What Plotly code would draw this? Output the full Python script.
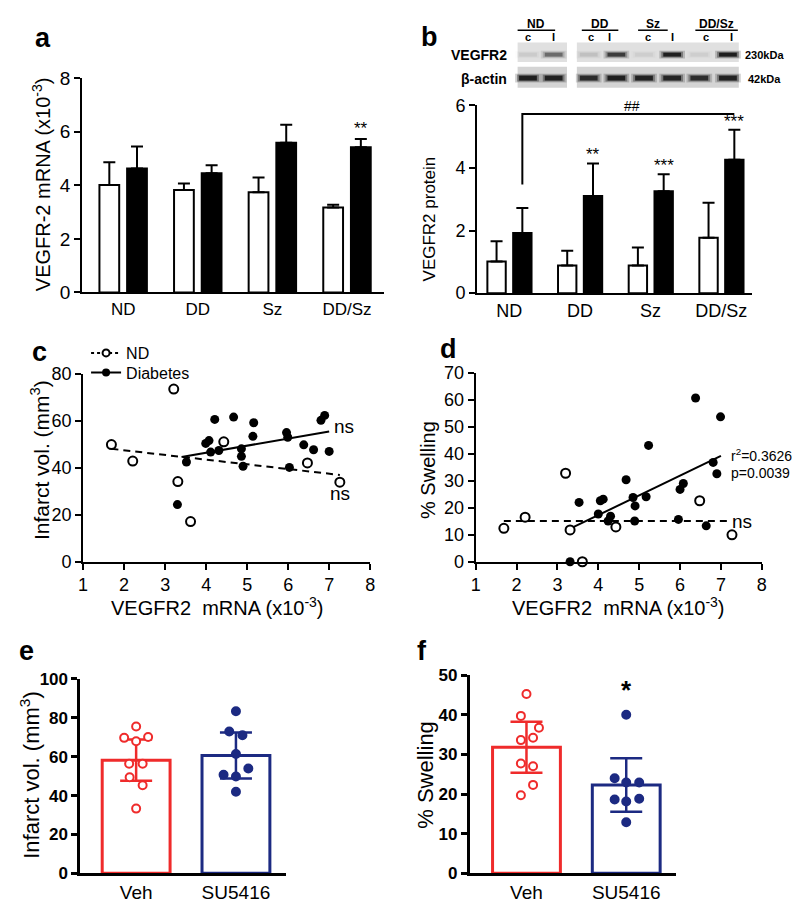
import plotly.graph_objects as go

W, H = 800, 903
def PX(x): return x / W
def PY(y): return 1 - y / H

FONT = "Arial, Liberation Sans, Helvetica, sans-serif"

# ---------------- data ----------------
groups = ["ND", "DD", "Sz", "DD/Sz"]
mrna_contra = [4.01, 3.83, 3.74, 3.17]
mrna_contra_err = [0.85, 0.24, 0.55, 0.11]
mrna_ipsi = [4.63, 4.45, 5.59, 5.42]
mrna_ipsi_err = [0.82, 0.30, 0.67, 0.31]
mrna_stars = ["", "", "", "**"]

prot_contra = [1.01, 0.88, 0.88, 1.77]
prot_contra_err = [0.65, 0.47, 0.58, 1.12]
prot_ipsi = [1.92, 3.10, 3.25, 4.26]
prot_ipsi_err = [0.80, 1.04, 0.55, 0.96]
prot_stars = ["", "**", "***", "***"]

blot_lanes = ["c", "I", "c", "I", "c", "I", "c", "I"]
vegfr2_band = [0.06, 0.45, 0.10, 0.72, 0.05, 0.92, 0.05, 0.95]
actin_band = [0.92, 0.90, 0.82, 0.92, 0.90, 0.88, 0.80, 0.90]

nd_mrna_c = [1.69, 2.21, 3.21, 3.31, 3.62, 4.43, 6.47, 7.26]
nd_infarct = [49.8, 42.8, 73.4, 34.1, 17.1, 51.0, 42.0, 33.8]
db_mrna_c = [3.30, 3.52, 3.99, 4.07, 4.11, 4.21, 4.31, 4.67, 4.86, 4.86, 4.90,
             5.14, 5.16, 5.96, 5.99, 6.03, 6.38, 6.62, 6.80, 6.89, 7.00]
db_infarct = [24.3, 42.4, 50.3, 51.5, 46.6, 60.5, 47.3, 61.5, 48.0, 44.8, 40.6,
              53.3, 59.1, 54.9, 52.9, 40.1, 49.7, 47.6, 60.1, 62.2, 46.9]
fit_c_nd_x, fit_c_nd_y = [1.69, 7.26], [48.0, 36.9]
fit_c_db_x, fit_c_db_y = [3.40, 7.00], [44.5, 55.4]

nd_mrna_d = [1.69, 2.21, 3.20, 3.31, 3.61, 4.43, 6.48, 7.27]
nd_swelling = [12.4, 16.5, 32.8, 11.8, 0.0, 12.9, 22.6, 10.0]
db_mrna_d = [3.31, 3.53, 4.00, 4.05, 4.12, 4.24, 4.30, 4.68, 4.85, 4.89, 4.90,
             5.17, 5.23, 5.96, 6.00, 6.08, 6.38, 6.64, 6.81, 6.90, 6.99]
db_swelling = [0.0, 22.0, 17.7, 22.6, 23.2, 15.1, 16.9, 30.4, 23.8, 15.1, 20.7,
               24.1, 43.1, 15.7, 26.8, 29.0, 60.7, 13.3, 36.8, 32.6, 53.7]
fit_d_nd_x, fit_d_nd_y = [1.69, 7.25], [15.1, 15.1]
fit_d_db_x, fit_d_db_y = [3.40, 7.00], [12.9, 39.2]

treat = ["Veh", "SU5416"]
veh_infarct = [75.5, 69.7, 70.1, 68.0, 56.4, 56.4, 49.4, 45.3, 33.3]
su_infarct = [83.4, 73.0, 71.0, 61.4, 50.7, 49.8, 53.9, 42.0]
infarct_err = [10.6, 11.8]
veh_swelling = [45.2, 39.7, 36.7, 33.6, 34.2, 27.7, 27.0, 22.3, 19.7]
su_swelling = [40.0, 24.0, 22.9, 22.9, 18.6, 18.1, 18.8, 12.9]
swelling_err = [6.45, 6.75]
swelling_stars = ["", "*"]

# horizontal spread of the dots within each bar (beeswarm layout)
veh_inf_jit = [0, -0.12, 0.12, 0, -0.07, 0.065, -0.065, 0.065, 0]
su_inf_jit = [0, -0.067, 0.065, 0, -0.124, 0, 0.124, 0]
veh_sw_jit = [0, -0.056, 0.125, -0.056, 0.066, -0.056, 0.066, 0.066, -0.056]
su_sw_jit = [0, -0.116, 0, 0.13, -0.116, 0, 0.13, 0]

RED = "#ef2b2b"
NAVY = "#1c2a82"

def mean(v): return sum(v) / len(v)

fig = go.Figure()
idx = list(range(len(groups)))

# ---------------- panel a ----------------
fig.add_trace(go.Bar(x=idx, y=mrna_contra, width=0.265, offset=-0.318,
                     marker=dict(color="white", line=dict(color="black", width=2)),
                     error_y=dict(type="data", symmetric=False, array=mrna_contra_err,
                                  arrayminus=[0] * 4, color="black", thickness=2, width=6),
                     xaxis="x", yaxis="y", showlegend=False))
fig.add_trace(go.Bar(x=idx, y=mrna_ipsi, width=0.265, offset=0.053,
                     marker=dict(color="black", line=dict(color="black", width=2)),
                     error_y=dict(type="data", symmetric=False, array=mrna_ipsi_err,
                                  arrayminus=[0] * 4, color="black", thickness=2, width=6),
                     xaxis="x", yaxis="y", showlegend=False))
# ---------------- panel b ----------------
fig.add_trace(go.Bar(x=idx, y=prot_contra, width=0.26, offset=-0.31,
                     marker=dict(color="white", line=dict(color="black", width=2)),
                     error_y=dict(type="data", symmetric=False, array=prot_contra_err,
                                  arrayminus=[0] * 4, color="black", thickness=2, width=6),
                     xaxis="x2", yaxis="y2", showlegend=False))
fig.add_trace(go.Bar(x=idx, y=prot_ipsi, width=0.26, offset=0.055,
                     marker=dict(color="black", line=dict(color="black", width=2)),
                     error_y=dict(type="data", symmetric=False, array=prot_ipsi_err,
                                  arrayminus=[0] * 4, color="black", thickness=2, width=6),
                     xaxis="x2", yaxis="y2", showlegend=False))
# bracket ND ipsi -> DD/Sz ipsi
fig.add_trace(go.Scatter(x=[idx[0] + 0.185, idx[0] + 0.185, idx[3] + 0.185],
                         y=[prot_ipsi[0] + prot_ipsi_err[0] + 0.75, 5.72, 5.72],
                         mode="lines", line=dict(color="black", width=2),
                         xaxis="x2", yaxis="y2", showlegend=False, hoverinfo="skip"))

# ---------------- panel c ----------------
nd_marker = dict(symbol="circle", size=9, color="white", line=dict(width=2, color="black"))
fill_marker = dict(symbol="circle", size=9, color="black")
fig.add_trace(go.Scatter(x=fit_c_nd_x, y=fit_c_nd_y, mode="lines",
                         line=dict(color="black", width=2, dash="7px,5px"),
                         xaxis="x3", yaxis="y3", showlegend=False))
fig.add_trace(go.Scatter(x=fit_c_db_x, y=fit_c_db_y, mode="lines",
                         line=dict(color="black", width=2),
                         xaxis="x3", yaxis="y3", showlegend=False))
fig.add_trace(go.Scatter(x=nd_mrna_c, y=nd_infarct, mode="markers", marker=nd_marker,
                         xaxis="x3", yaxis="y3", showlegend=False, cliponaxis=False))
fig.add_trace(go.Scatter(x=db_mrna_c, y=db_infarct, mode="markers", marker=fill_marker,
                         xaxis="x3", yaxis="y3", showlegend=False, cliponaxis=False))
# legend entries (one legend box per entry to reproduce the tight spacing)
fig.add_trace(go.Scatter(x=[None], y=[None], mode="lines+markers", name="ND", legend="legend",
                         line=dict(color="black", width=2, dash="3px,3px"),
                         marker=dict(symbol="circle", size=7, color="white",
                                     line=dict(width=2, color="black")),
                         xaxis="x3", yaxis="y3"))
fig.add_trace(go.Scatter(x=[None], y=[None], mode="lines+markers", name="Diabetes",
                         legend="legend2", line=dict(color="black", width=2),
                         marker=dict(symbol="circle", size=8, color="black"),
                         xaxis="x3", yaxis="y3"))

# ---------------- panel d ----------------
fig.add_trace(go.Scatter(x=fit_d_nd_x, y=fit_d_nd_y, mode="lines",
                         line=dict(color="black", width=2, dash="7px,5px"),
                         xaxis="x4", yaxis="y4", showlegend=False))
fig.add_trace(go.Scatter(x=fit_d_db_x, y=fit_d_db_y, mode="lines",
                         line=dict(color="black", width=2),
                         xaxis="x4", yaxis="y4", showlegend=False))
fig.add_trace(go.Scatter(x=nd_mrna_d, y=nd_swelling, mode="markers", marker=nd_marker,
                         xaxis="x4", yaxis="y4", showlegend=False, cliponaxis=False))
fig.add_trace(go.Scatter(x=db_mrna_d, y=db_swelling, mode="markers", marker=fill_marker,
                         xaxis="x4", yaxis="y4", showlegend=False, cliponaxis=False))

# ---------------- panels e, f ----------------
tidx = [0, 1]
for xa, ya, vgroups, errs in [("x5", "y5", [(veh_infarct, veh_inf_jit), (su_infarct, su_inf_jit)], infarct_err),
                              ("x6", "y6", [(veh_swelling, veh_sw_jit), (su_swelling, su_sw_jit)], swelling_err)]:
    fig.add_trace(go.Bar(x=tidx, y=[mean(v) for v, _ in vgroups], width=0.68,
                         marker=dict(color="white", line=dict(color=[RED, NAVY], width=3)),
                         xaxis=xa, yaxis=ya, showlegend=False))
    for i, ((vals, jit), col, opn) in enumerate(zip(vgroups, [RED, NAVY], [True, False])):
        fig.add_trace(go.Scatter(x=[tidx[i]], y=[mean(vals)], mode="markers",
                                 marker=dict(size=0.1, color=col),
                                 error_y=dict(type="data", array=[errs[i]], color=col,
                                              thickness=2.5, width=16),
                                 xaxis=xa, yaxis=ya, showlegend=False))
        fig.add_trace(go.Scatter(x=[tidx[i] + j for j in jit], y=vals, mode="markers",
                                 marker=dict(symbol="circle", size=8,
                                             color="white" if opn else col,
                                             line=dict(width=2, color=col)),
                                 xaxis=xa, yaxis=ya, showlegend=False, cliponaxis=False))

# ---------------- axes ----------------
def yax(ybot, ytop, rng, dtick, anchor, size, lw=2, bold=False):
    return dict(domain=[PY(ybot), PY(ytop)], range=rng, dtick=dtick, tick0=0,
                showgrid=False, zeroline=False, showline=True, linecolor="black",
                linewidth=lw, ticks="outside", ticklen=6, tickwidth=lw, tickcolor="black",
                tickfont=dict(size=size, family=FONT, color="black",
                              weight="bold" if bold else "normal"),
                anchor=anchor, fixedrange=True)

def xcat(x0, x1, rng, labels, anchor, size, lw=2):
    return dict(domain=[PX(x0), PX(x1)], range=rng, tickmode="array",
                tickvals=list(range(len(labels))), ticktext=labels,
                showgrid=False, zeroline=False, showline=True, linecolor="black",
                linewidth=lw, ticks="", tickfont=dict(size=size, family=FONT, color="black"),
                anchor=anchor, fixedrange=True)

def xnum(x0, x1, anchor, size):
    return dict(domain=[PX(x0), PX(x1)], range=[1, 8], dtick=1, showgrid=False,
                zeroline=False, showline=True, linecolor="black", linewidth=2,
                ticks="outside", ticklen=6, tickwidth=2, tickcolor="black",
                tickfont=dict(size=size, family=FONT, color="black"),
                anchor=anchor, fixedrange=True)

leg_common = dict(xanchor="left", yanchor="middle", font=dict(size=16, family=FONT, color="black"),
                  bgcolor="rgba(0,0,0,0)", itemwidth=30, borderwidth=0,
                  itemclick=False, itemdoubleclick=False)

layout = dict(
    width=W, height=H, autosize=False, margin=dict(l=0, r=0, t=0, b=0),
    paper_bgcolor="white", plot_bgcolor="rgba(0,0,0,0)",
    font=dict(family=FONT, color="black"),
    barmode="overlay",
    xaxis=xcat(70, 376, [-0.55, 3.5], groups, "y", 17),
    yaxis=yax(281, 61.7, [0, 8], 2, "x", 19),
    xaxis2=xcat(470, 748, [-0.455, 3.43], groups, "y2", 18),
    yaxis2=yax(281.7, 89.3, [0, 6], 2, "x2", 18),
    xaxis3=xnum(71, 361.7, "y3", 18),
    yaxis3=yax(556.7, 364, [0, 80], 20, "x3", 18),
    xaxis4=xnum(468.5, 758.3, "y4", 18),
    yaxis4=yax(556.7, 363.3, [0, 70], 10, "x4", 18),
    xaxis5=xcat(68.3, 276, [-0.558, 1.497], treat, "y5", 19, lw=3),
    yaxis5=yax(875.7, 676.7, [0, 100], 20, "x5", 17, lw=3, bold=True),
    xaxis6=xcat(462.7, 671.7, [-0.567, 1.502], treat, "y6", 19, lw=3),
    yaxis6=yax(875.7, 672.7, [0, 50], 10, "x6", 17, lw=3, bold=True),
    showlegend=True,
    legend=dict(x=PX(74), y=PY(343), **leg_common),
    legend2=dict(x=PX(74), y=PY(363), **leg_common),
)

ann = []
def txt(x, y, s, size, bold=False, angle=0, xanchor="center", yanchor="middle"):
    ann.append(dict(x=PX(x), y=PY(y), xref="paper", yref="paper", text=s, showarrow=False,
                    textangle=angle, xanchor=xanchor, yanchor=yanchor,
                    font=dict(size=size, family=FONT, color="black",
                              weight="bold" if bold else "normal")))

# panel letters
for s, x, y in [("a", 30, 20), ("b", 422, 19), ("c", 27, 342), ("d", 441, 339),
                ("e", 14, 648), ("f", 414, 648)]:
    txt(x, y, s, 27, bold=True)

# axis titles
txt(28.5, 170, "VEGFR-2 mRNA (x10<sup>-3</sup>)", 20, angle=-90)
txt(421.5, 206, "VEGFR2 protein", 17, angle=-90)
txt(28, 453, "Infarct vol. (mm<sup>3</sup>)", 21, angle=-90)
txt(207, 603, "VEGFR2  mRNA (x10<sup>-3</sup>)", 20)
txt(420, 463, "% Swelling", 20, angle=-90)
txt(613, 603, "VEGFR2  mRNA (x10<sup>-3</sup>)", 20)
txt(17, 775, "Infarct vol. (mm<sup>3</sup>)", 22, angle=-90)
txt(418, 775, "% Swelling", 22, angle=-90)

# significance marks
for i, s in enumerate(mrna_stars):
    if s:
        ann.append(dict(x=idx[i] + 0.185, y=mrna_ipsi[i] + mrna_ipsi_err[i], xref="x", yref="y",
                        text=s, showarrow=False, yanchor="bottom", yshift=-1,
                        font=dict(size=17, family=FONT, color="black")))
for i, s in enumerate(prot_stars):
    if s:
        ann.append(dict(x=idx[i] + 0.185, y=prot_ipsi[i] + prot_ipsi_err[i], xref="x2", yref="y2",
                        text=s, showarrow=False, yanchor="bottom", yshift=-3,
                        font=dict(size=17, family=FONT, color="black")))
ann.append(dict(x=1.74, y=5.72, xref="x2", yref="y2", text="##", showarrow=False,
                yanchor="bottom", yshift=-2, font=dict(size=14, family=FONT, color="black")))
for i, s in enumerate(swelling_stars):
    if s:
        ann.append(dict(x=tidx[i], y=max(su_swelling), xref="x6", yref="y6", text=s,
                        showarrow=False, yanchor="bottom", yshift=8,
                        font=dict(size=26, family=FONT, color="black", weight="bold")))

# fit labels
txt(335, 418, "ns", 19)
txt(331, 487, "ns", 19)
txt(738, 515, "ns", 19)
txt(725, 447, "r<sup>2</sup>=0.3626", 14, xanchor="left")
txt(725, 466, "p=0.0039", 14, xanchor="left")

# ---------------- western blot (panel b inset) ----------------
shapes = []
lane_x = [521.5, 547.5, 583, 611, 639, 667.5, 695, 724]
for (x0, x1) in [(511, 561), (571, 735)]:
    shapes.append(dict(type="rect", xref="paper", yref="paper", x0=PX(x0), x1=PX(x1),
                       y0=PY(45), y1=PY(25), fillcolor="#e0e0e0", line=dict(width=0), layer="below"))
    shapes.append(dict(type="rect", xref="paper", yref="paper", x0=PX(x0), x1=PX(x1),
                       y0=PY(71.5), y1=PY(50), fillcolor="#d4d4d4", line=dict(width=0), layer="below"))

def band(cx, cy, w, h, inten):
    for grow, frac in [(4, 0.22), (2, 0.4), (0, 0.95)]:
        a = max(0.0, min(1.0, inten * frac))
        shapes.append(dict(type="rect", xref="paper", yref="paper",
                           x0=PX(cx - w / 2 - grow), x1=PX(cx + w / 2 + grow),
                           y0=PY(cy + h / 2 + grow / 2), y1=PY(cy - h / 2 - grow / 2),
                           fillcolor=f"rgba(20,20,20,{a:.3f})", line=dict(width=0), layer="below"))

for i, lx in enumerate(lane_x):
    band(lx, 37.5, 18, 4, vegfr2_band[i])
    band(lx, 61.5, 18, 5, actin_band[i])

# group headers and underlines
for g, (x0, x1) in zip(groups, [(511, 549), (576, 613), (633, 663), (691, 734)]):
    shapes.append(dict(type="line", xref="paper", yref="paper", x0=PX(x0), x1=PX(x1),
                       y0=PY(12.5), y1=PY(12.5), line=dict(color="black", width=1.5)))
    txt((x0 + x1) / 2, 6, g, 12, bold=True)
for lab, lx in zip(blot_lanes, [521.7, 547.7, 585.7, 604, 642.7, 668, 701.7, 727.3]):
    txt(lx, 19.5, lab, 11, bold=True)
txt(502, 37.5, "VEGFR2", 14, bold=True, xanchor="right")
txt(502, 62, "β-actin", 14, bold=True, xanchor="right")
txt(739, 37.5, "230kDa", 11, bold=True, xanchor="left")
txt(742, 62, "42kDa", 11, bold=True, xanchor="left")

layout["annotations"] = ann
layout["shapes"] = shapes
fig.update_layout(**layout)
fig.write_html("out.html")
